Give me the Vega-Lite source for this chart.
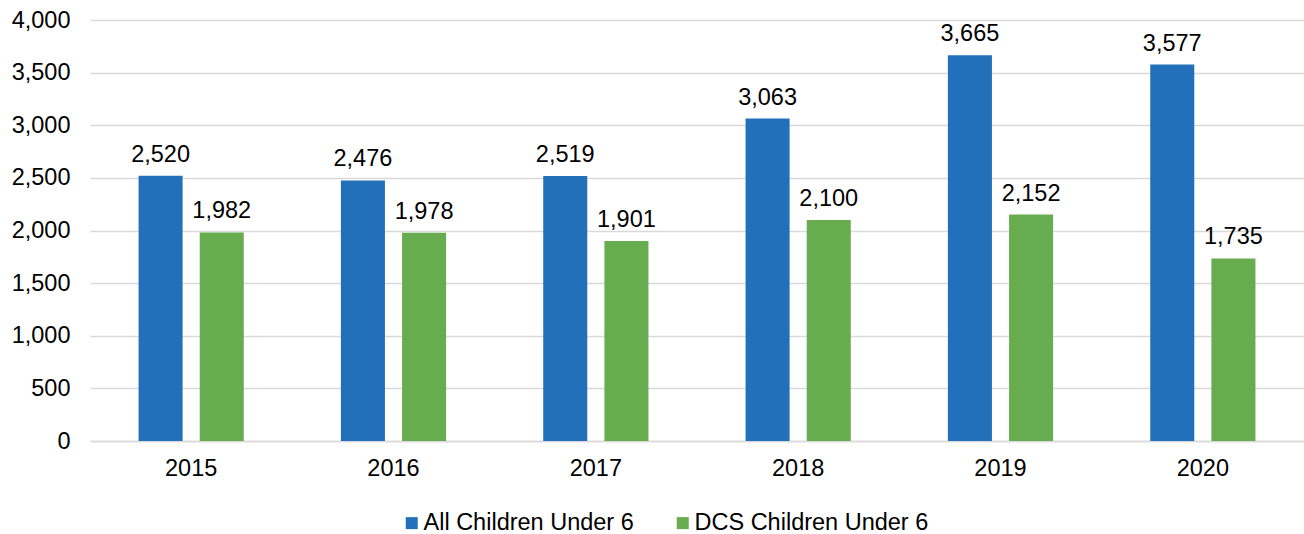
{
  "$schema": "https://vega.github.io/schema/vega-lite/v6.json",
  "width": 1214,
  "height": 421,
  "autosize": {"type": "none"},
  "padding": {"left": 90, "top": 20, "right": 0, "bottom": 93},
  "background": "white",
  "config": {
    "view": {"stroke": null},
    "font": "Liberation Sans",
    "text": {"font": "Liberation Sans"}
  },
  "data": {
    "values": [
      {"year": "2015", "series": "All Children Under 6", "value": 2520},
      {"year": "2015", "series": "DCS Children Under 6", "value": 1982},
      {"year": "2016", "series": "All Children Under 6", "value": 2476},
      {"year": "2016", "series": "DCS Children Under 6", "value": 1978},
      {"year": "2017", "series": "All Children Under 6", "value": 2519},
      {"year": "2017", "series": "DCS Children Under 6", "value": 1901},
      {"year": "2018", "series": "All Children Under 6", "value": 3063},
      {"year": "2018", "series": "DCS Children Under 6", "value": 2100},
      {"year": "2019", "series": "All Children Under 6", "value": 3665},
      {"year": "2019", "series": "DCS Children Under 6", "value": 2152},
      {"year": "2020", "series": "All Children Under 6", "value": 3577},
      {"year": "2020", "series": "DCS Children Under 6", "value": 1735}
    ]
  },
  "encoding": {
    "x": {
      "field": "year", "type": "nominal", "title": null,
      "scale": {"paddingInner": 0.48, "paddingOuter": 0.24},
      "axis": {"labelAngle": 0, "labelFontSize": 23.5, "labelColor": "#000000", "labelPadding": 15, "ticks": false, "domainColor": "#d9d9d9", "domainWidth": 1.5, "labelFont": "Liberation Sans"}
    },
    "xOffset": {"field": "series", "type": "nominal", "scale": {"paddingInner": 0.28}},
    "y": {
      "field": "value", "type": "quantitative", "title": null,
      "scale": {"domain": [0, 4000]},
      "axis": {"values": [0, 500, 1000, 1500, 2000, 2500, 3000, 3500, 4000], "format": ",.0f", "labelFontSize": 23.5, "labelColor": "#000000", "labelPadding": 20, "ticks": false, "domain": false, "gridColor": "#d9d9d9", "gridWidth": 1.5, "labelFont": "Liberation Sans"}
    },
    "color": {
      "field": "series", "type": "nominal", "title": null,
      "scale": {"domain": ["All Children Under 6", "DCS Children Under 6"], "range": ["#2270BA", "#68AC50"]},
      "legend": {"orient": "none", "legendX": 310, "legendY": 491, "direction": "horizontal", "symbolType": "square", "symbolSize": 144, "symbolStrokeWidth": 0, "labelFontSize": 23.5, "labelColor": "#000000", "labelFont": "Liberation Sans", "labelLimit": 0, "columnPadding": 37, "labelOffset": 0}
    }
  },
  "layer": [
    {"mark": {"type": "bar"}},
    {
      "mark": {"type": "text", "baseline": "alphabetic", "dy": -14, "fontSize": 23.5, "color": "#000000", "font": "Liberation Sans"},
      "encoding": {"text": {"field": "value", "type": "quantitative", "format": ","}, "color": {"value": "#000000"}}
    }
  ]
}
